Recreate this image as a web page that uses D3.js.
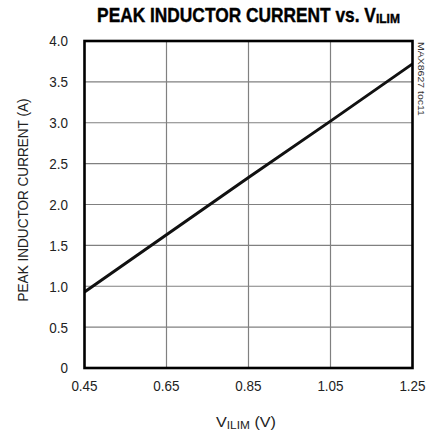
<!DOCTYPE html>
<html><head><meta charset="utf-8">
<script src="https://cdn.jsdelivr.net/npm/d3@7"></script>
<style>
body{margin:0;background:#fff;}
text{font-family:"Liberation Sans",Arial,Helvetica,sans-serif;}
</style></head>
<body><svg id="c" width="430" height="433"></svg>
<script>
const vilim = [0.45, 0.65, 0.85, 1.05, 1.25];
const current = [0.93, 1.63, 2.33, 3.02, 3.72];
const xTicks = [0.45, 0.65, 0.85, 1.05, 1.25];
const yTicks = [0, 0.5, 1.0, 1.5, 2.0, 2.5, 3.0, 3.5, 4.0];

const svg = d3.select("#c");
const L = 84.5, R = 412.5, T = 41, B = 368;
const x = d3.scaleLinear().domain([0.45, 1.25]).range([L, R]);
const y = d3.scaleLinear().domain([0, 4]).range([B, T]);

function fitX(sel, target, cx) {
  const w = sel.node().getBBox().width;
  const s = target / w;
  sel.attr("transform", `translate(${cx},0) scale(${s},1) translate(${-cx},0)`);
}
const SX = 0.87;

// grid
svg.append("g").selectAll("line").data(xTicks.slice(1, -1)).join("line")
  .attr("x1", d => x(d)).attr("x2", d => x(d)).attr("y1", T).attr("y2", B)
  .attr("stroke", "#808080").attr("stroke-width", 1.2);
svg.append("g").selectAll("line").data(yTicks.slice(1, -1)).join("line")
  .attr("y1", d => y(d)).attr("y2", d => y(d)).attr("x1", L).attr("x2", R)
  .attr("stroke", "#808080").attr("stroke-width", 1.2);

// data line
svg.append("defs").append("clipPath").attr("id", "clip")
  .append("rect").attr("x", L).attr("y", T).attr("width", R - L).attr("height", B - T);
const line = d3.line().x((d, i) => x(vilim[i])).y(d => y(d));
svg.append("path").datum(current).attr("d", line)
  .attr("fill", "none").attr("stroke", "#111").attr("stroke-width", 3)
  .attr("clip-path", "url(#clip)");

// frame
svg.append("rect").attr("x", L).attr("y", T).attr("width", R - L).attr("height", B - T)
  .attr("fill", "none").attr("stroke", "#000").attr("stroke-width", 2.6);

// tick labels
const fmtX = d3.format(".2f");
svg.append("g").selectAll("text").data(xTicks).join("text")
  .attr("x", d => x(d)).attr("y", 391).attr("text-anchor", "middle")
  .attr("font-size", 15.5).attr("fill", "#222")
  .attr("transform", d => `translate(${x(d)},0) scale(${SX},1) translate(${-x(d)},0)`)
  .text(d => fmtX(d));
svg.append("g").selectAll("text").data(yTicks).join("text")
  .attr("x", 68).attr("y", d => y(d) + 5.5).attr("text-anchor", "end")
  .attr("font-size", 15.5).attr("fill", "#222")
  .attr("transform", `translate(68,0) scale(${SX},1) translate(-68,0)`)
  .text(d => d === 0 ? "0" : d3.format(".1f")(d));

// axis titles
const xt = svg.append("text").attr("x", 246).attr("y", 427).attr("text-anchor", "middle")
  .attr("font-size", 15).attr("fill", "#222");
xt.append("tspan").text("V");
xt.append("tspan").attr("font-size", 11).attr("dy", 2).text("ILIM");
xt.append("tspan").attr("dy", -2).text(" (V)");
fitX(xt, 60, 246);

const yl = svg.append("g").attr("transform", `translate(28,200) rotate(-90)`);
const ylt = yl.append("text").attr("x", 0).attr("y", 0)
  .attr("text-anchor", "middle").attr("font-size", 15).attr("fill", "#222")
  .text("PEAK INDUCTOR CURRENT (A)");
fitX(ylt, 203, 0);

// title
const tt = svg.append("text").attr("x", 248.5).attr("y", 22).attr("text-anchor", "middle")
  .attr("font-size", 19.5).attr("font-weight", "bold").attr("fill", "#000")
  .attr("stroke", "#000").attr("stroke-width", 0.4);
tt.append("tspan").text("PEAK INDUCTOR CURRENT vs. V");
tt.append("tspan").attr("font-size", 13.5).attr("dy", 1.5).text("ILIM");
fitX(tt, 303, 248.5);

// watermark
const wm = svg.append("g").attr("transform", "translate(418,42) rotate(90)");
const wmt = wm.append("text").attr("x", 0).attr("y", 0)
  .attr("font-size", 9).attr("fill", "#333").text("MAX8627 toc11");
fitX(wmt, 74, 0);
</script></body></html>
